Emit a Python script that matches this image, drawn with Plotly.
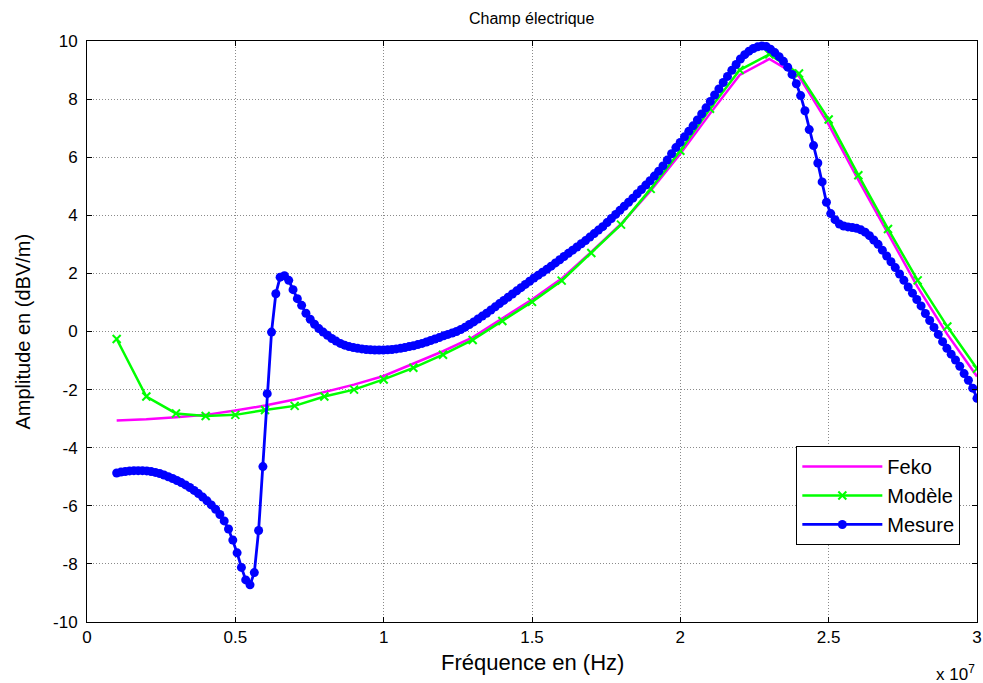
import numpy as np
import plotly.graph_objects as go

# ---------------- data ----------------
freq_model = np.linspace(1e6, 3e7, 30)          # Feko / Modèle frequency grid (Hz)
feko = [-3.06, -3.02, -2.95, -2.87, -2.72, -2.55, -2.34, -2.09, -1.83, -1.53,
        -1.10, -0.68, -0.20, 0.44, 1.10, 1.82, 2.74, 3.70, 4.85, 6.12,
        7.50, 8.83, 9.38, 8.78, 7.12, 5.22, 3.36, 1.53, -0.10, -1.55]
modele = [-0.26, -2.24, -2.82, -2.91, -2.87, -2.70, -2.56, -2.24, -2.00, -1.65,
          -1.25, -0.80, -0.29, 0.36, 1.02, 1.75, 2.70, 3.68, 4.91, 6.22,
          7.67, 9.00, 9.54, 8.88, 7.30, 5.38, 3.53, 1.76, 0.17, -1.28]

freq_mesure = np.linspace(1e6, 3e7, 201)        # measurement frequency grid (Hz)
mesure = [
    -4.87, -4.84, -4.82, -4.80, -4.79, -4.79, -4.79, -4.80, -4.82, -4.85,
    -4.89, -4.94, -5.00, -5.06, -5.13, -5.20, -5.28, -5.37, -5.47, -5.58,
    -5.70, -5.83, -5.97, -6.12, -6.30, -6.52, -6.80, -7.18, -7.62, -8.12,
    -8.55, -8.72, -8.30, -6.85, -4.65, -2.14, -0.02, 1.30, 1.87, 1.92,
    1.76, 1.44, 1.13, 0.90, 0.63, 0.42, 0.25, 0.10, -0.02, -0.13,
    -0.24, -0.33, -0.41, -0.47, -0.52, -0.55, -0.58, -0.60, -0.62, -0.63,
    -0.64, -0.64, -0.64, -0.63, -0.62, -0.60, -0.58, -0.55, -0.52, -0.49,
    -0.45, -0.41, -0.36, -0.31, -0.26, -0.21, -0.15, -0.10, -0.05, 0.00,
    0.07, 0.15, 0.24, 0.33, 0.43, 0.53, 0.63, 0.74, 0.85, 0.96,
    1.07, 1.18, 1.29, 1.40, 1.51, 1.62, 1.73, 1.84, 1.94, 2.04,
    2.14, 2.25, 2.36, 2.47, 2.58, 2.69, 2.80, 2.91, 3.02, 3.13,
    3.25, 3.37, 3.49, 3.61, 3.75, 3.89, 4.03, 4.17, 4.31, 4.45,
    4.59, 4.74, 4.89, 5.04, 5.19, 5.35, 5.52, 5.70, 5.90, 6.12,
    6.33, 6.51, 6.70, 6.89, 7.08, 7.28, 7.49, 7.70, 7.92, 8.14,
    8.35, 8.57, 8.78, 8.99, 9.19, 9.38, 9.53, 9.65, 9.74, 9.80,
    9.83, 9.81, 9.72, 9.60, 9.46, 9.30, 9.10, 8.85, 8.53, 8.12,
    7.60, 6.95, 6.40, 5.80, 5.15, 4.45, 4.06, 3.85, 3.70, 3.63,
    3.60, 3.58, 3.55, 3.50, 3.42, 3.30, 3.15, 3.00, 2.80, 2.60,
    2.40, 2.20, 1.98, 1.76, 1.53, 1.32, 1.10, 0.88, 0.62, 0.38,
    0.14, -0.10, -0.35, -0.58, -0.78, -0.98, -1.20, -1.45, -1.68, -1.95,
    -2.30]

x_tickvals = [0, 0.5e7, 1e7, 1.5e7, 2e7, 2.5e7, 3e7]
x_ticktext = ["0", "0.5", "1", "1.5", "2", "2.5", "3"]
y_tickvals = [-10, -8, -6, -4, -2, 0, 2, 4, 6, 8, 10]
y_ticktext = ["-10", "-8", "-6", "-4", "-2", "0", "2", "4", "6", "8", "10"]

FONT = "Liberation Sans, Arial, sans-serif"

fig = go.Figure()
fig.add_trace(go.Scatter(x=freq_model, y=feko, mode="lines", name="Feko",
                         line=dict(color="#FF00FF", width=2.5)))
fig.add_trace(go.Scatter(x=freq_model, y=modele, mode="lines+markers", name="Modèle",
                         line=dict(color="#00FF00", width=2.5),
                         marker=dict(symbol="x-thin", size=8, color="#00FF00",
                                     line=dict(color="#00FF00", width=2))))
fig.add_trace(go.Scatter(x=freq_mesure, y=mesure, mode="lines+markers", name="Mesure",
                         line=dict(color="#0000FF", width=2.8),
                         marker=dict(symbol="circle", size=9, color="#0000FF")))

axis_common = dict(
    showline=True, linecolor="black", linewidth=1, mirror="ticks",
    ticks="inside", ticklen=5, tickcolor="black",
    showgrid=True, gridcolor="#8a8a8a", griddash="1px,2px", gridwidth=1,
    zeroline=False, tickfont=dict(family=FONT, size=17, color="black"),
    ticklabeloverflow="allow", automargin=False,
)

fig.update_xaxes(range=[0, 3e7], tickvals=x_tickvals, ticktext=x_ticktext, **axis_common)
fig.update_yaxes(range=[-10, 10], tickvals=y_tickvals, ticktext=y_ticktext,
                 ticklabelstandoff=5, **axis_common)

fig.update_layout(
    width=983, height=683,
    margin=dict(l=87, r=6, t=41, b=61, autoexpand=False),
    paper_bgcolor="white", plot_bgcolor="white",
    font=dict(family=FONT, color="black"),
    showlegend=True,
    legend=dict(x=0.797, y=0.303, xanchor="left", yanchor="top",
                bgcolor="white", bordercolor="black", borderwidth=1,
                font=dict(family=FONT, size=20, color="black"),
                itemwidth=80, tracegroupgap=0),
    annotations=[
        dict(text="Champ électrique", xref="paper", yref="paper", x=0.5, y=1,
             yshift=23, xanchor="center", yanchor="middle", showarrow=False,
             font=dict(family=FONT, size=16)),
        dict(text="Fréquence en (Hz)", xref="paper", yref="paper", x=0.5, y=0,
             yshift=-40, xanchor="center", yanchor="middle", showarrow=False,
             font=dict(family=FONT, size=22)),
        dict(text="Amplitude en (dBV/m)", xref="paper", yref="paper", x=0, y=0.5,
             xshift=-65, xanchor="center", yanchor="middle", textangle=-90,
             showarrow=False, font=dict(family=FONT, size=20)),
        dict(text="x 10<sup>7</sup>", xref="paper", yref="paper", x=1, y=0,
             yshift=-51, xanchor="right", yanchor="middle", showarrow=False,
             font=dict(family=FONT, size=17)),
    ],
)

fig.write_html("out.html", config={"displayModeBar": False},
               post_script="document.body.style.margin='0';document.body.style.padding='0';")
